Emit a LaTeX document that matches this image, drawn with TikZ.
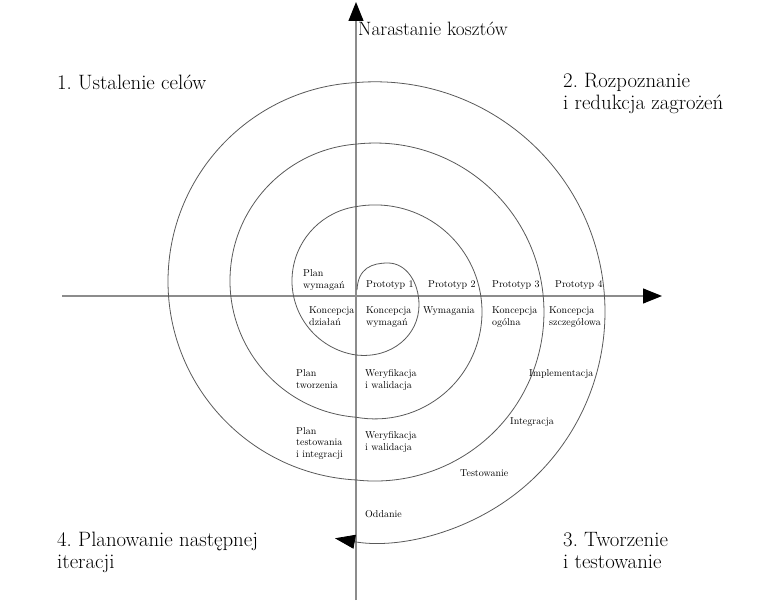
\documentclass[tikz,border=0pt]{standalone}
\usepackage{fontspec}
\usetikzlibrary{arrows.meta}
\frenchspacing
\begin{document}
\begin{tikzpicture}[
    x=1pt, y=1pt,
    axis/.style={draw=black!45, line width=1.2pt},
    spiral/.style={draw=black!65, line width=0.8pt},
    quadrant/.style={anchor=base west, inner sep=0pt, align=left, font=\fontsize{20.8}{22}\selectfont},
    task/.style={anchor=base west, inner sep=0pt, align=left, font=\fontsize{10}{12}\selectfont}
  ]
  \useasboundingbox (0,0) rectangle (763,600);

  \coordinate (west) at (62,304);
  \coordinate (east) at (662,304);
  \coordinate (south) at (356,0);
  \coordinate (north) at (356,598);
  \draw[axis, -{Triangle[length=19pt, width=15pt, black]}] (west) -- (east);
  \draw[axis, -{Triangle[length=19pt, width=15pt, black]}] (south) -- (north);

  \coordinate (start) at (357,310);
  \draw[spiral, -{Triangle[length=20pt, width=14pt, black]}] (start)
    .. controls (358,332) and (372,337) .. (388,337)
    .. controls (406,337) and (419,318) .. (419,295)
    .. controls (419,265) and (392,241) .. (356,245)
    arc[start angle=261.57, end angle=98.43, radius=75]
    arc[start angle=100.23, end angle=-100.23, radius=107]
    arc[start angle=265.40, end angle=94.60, radius=137]
    arc[start angle=96.45, end angle=-96.45, radius=169]
    arc[start angle=266.83, end angle=93.17, radius=199]
    arc[start angle=94.74, end angle=-100.02, radius=230];

  \node[anchor=base west, inner sep=0pt, font=\fontsize{19.3}{22}\selectfont] (cost) at (358,564) {Narastanie kosztów};
  \node[quadrant] (goals) at (57,510) {1. Ustalenie celów};
  \node[quadrant] (risks) at (563,490) {2. Rozpoznanie\\i redukcja zagrożeń};
  \node[quadrant] (build) at (563,32) {3. Tworzenie\\i testowanie};
  \node[quadrant] (next) at (57,32) {4. Planowanie następnej\\iteracji};

  \node[task] (planreq) at (303,311) {Plan\\wymagań};
  \node[task] (proto1) at (366,312) {Prototyp 1};
  \node[task] (proto2) at (428,312) {Prototyp 2};
  \node[task] (proto3) at (492,312) {Prototyp 3};
  \node[task] (proto4) at (555,312) {Prototyp 4};
  \node[task] (conops) at (309,274) {Koncepcja\\działań};
  \node[task] (conreq) at (366,274) {Koncepcja\\wymagań};
  \node[task] (req) at (423,286) {Wymagania};
  \node[task] (congen) at (492,274) {Koncepcja\\ogólna};
  \node[task] (condet) at (549,274) {Koncepcja\\szczegółowa};
  \node[task] (plandev) at (296,211) {Plan\\tworzenia};
  \node[task] (verif1) at (365,211) {Weryfikacja\\i walidacja};
  \node[task] (impl) at (529,223) {Implementacja};
  \node[task] (plantest) at (296,142) {Plan\\testowania\\i integracji};
  \node[task] (verif2) at (365,149) {Weryfikacja\\i walidacja};
  \node[task] (integ) at (510,175) {Integracja};
  \node[task] (test) at (460,123) {Testowanie};
  \node[task] (deliv) at (365,83) {Oddanie};

\end{tikzpicture}
\end{document}
